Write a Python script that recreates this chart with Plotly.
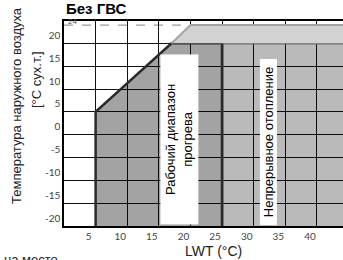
import plotly.graph_objects as go

# ---- data ----
lwt_ticks = [5, 10, 15, 20, 25, 30, 35, 40]
oat_ticks = [-20, -15, -10, -5, 0, 5, 10, 15, 20]

warmup_lwt = [5, 5, 17, 25, 25]
warmup_oat = [-20, 5, 20, 20, -20]

continuous_lwt = [25, 25, 45, 45]
continuous_oat = [-20, 20, 20, -20]

band_lwt = [17, 20, 45, 45]
band_oat = [20, 24, 24, 20]

max_oat = 24

fig = go.Figure()

fig.add_trace(go.Scatter(
    x=continuous_lwt, y=continuous_oat, fill="toself", mode="lines",
    fillcolor="rgba(0,0,0,0.27)", line=dict(color="#6a6a6a", width=2.5),
    hoverinfo="skip", showlegend=False))

fig.add_trace(go.Scatter(
    x=warmup_lwt, y=warmup_oat, fill="toself", mode="lines",
    fillcolor="rgba(0,0,0,0.36)", line=dict(color="#2a2a2a", width=2.5),
    hoverinfo="skip", showlegend=False))

fig.add_trace(go.Scatter(
    x=band_lwt, y=band_oat, fill="toself", mode="lines",
    fillcolor="#d2d2d2", line=dict(color="#a2a2a2", width=2),
    hoverinfo="skip", showlegend=False))

# dashed max line
fig.add_shape(type="line", x0=0, x1=band_lwt[1], y0=max_oat, y1=max_oat,
              line=dict(color="#9a9a9a", width=1.2, dash="dash"), layer="below")

tickfont = dict(family="Lato, Open Sans, sans-serif", size=10, color="#444")

fig.update_xaxes(
    range=[0, 44.12], tickvals=lwt_ticks, ticktext=[str(v) for v in lwt_ticks],
    showgrid=True, gridcolor="#111", gridwidth=1, zeroline=False,
    showline=True, linecolor="#000", linewidth=2, mirror=True,
    ticks="", tickfont=tickfont, ticklabelshift=-7, fixedrange=True,
    automargin=False)
fig.update_yaxes(
    range=[-20, 24.9], tickvals=oat_ticks, ticktext=[str(v) for v in oat_ticks],
    showgrid=True, gridcolor="#111", gridwidth=1, zeroline=False,
    showline=True, linecolor="#000", linewidth=1.5,
    ticks="", tickfont=tickfont, ticklabelshift=-8, fixedrange=True,
    automargin=False)

ML, MT, PW, PH = 64, 21, 279, 205


def px(xp):
    return (xp - ML) / PW


def py(yp):
    return (MT + PH - yp) / PH


base = "Liberation Sans, Arial, sans-serif"
annotations = [
    dict(text="<b>Без ГВС</b>", xref="paper", yref="paper", x=px(64), y=py(9),
         xanchor="left", yanchor="middle", showarrow=False,
         font=dict(family=base, size=15, color="#000")),
    dict(text="Температура наружного воздуха", xref="paper", yref="paper",
         x=px(16), y=py(106), xanchor="center", yanchor="middle", textangle=-90,
         showarrow=False, font=dict(family=base, size=13, color="#222")),
    dict(text="[°C сух.т.]", xref="paper", yref="paper",
         x=px(36), y=py(80), xanchor="center", yanchor="middle", textangle=-90,
         showarrow=False, font=dict(family=base, size=13, color="#222")),
    dict(text="LWT (°C)", xref="paper", yref="paper", x=px(213), y=py(251),
         xanchor="center", yanchor="middle", showarrow=False,
         font=dict(family=base, size=14, color="#222")),
    dict(text="на место", xref="paper", yref="paper", x=px(2), y=py(259),
         xanchor="left", yanchor="middle", showarrow=False,
         font=dict(family=base, size=13, color="#222")),
    dict(text="24", xref="paper", yref="paper", x=px(66), y=py(28),
         xanchor="left", yanchor="bottom", showarrow=False,
         font=dict(family=base, size=8, color="#555")),
    dict(text="Рабочий диапазон<br>прогрева", x=18.25, y=-1.06, xref="x", yref="y",
         textangle=-90, showarrow=False, bgcolor="#fff", width=167, height=35,
         font=dict(family=base, size=13, color="#000")),
    dict(text="Непрерывное отопление", x=32.25, y=-1.5, xref="x", yref="y",
         textangle=-90, showarrow=False, bgcolor="#fff", width=163, height=14,
         font=dict(family=base, size=13, color="#000")),
]

fig.update_layout(
    width=343, height=260, autosize=False,
    margin=dict(l=ML, r=0, t=MT, b=260 - MT - PH, pad=0, autoexpand=False),
    plot_bgcolor="#fff", paper_bgcolor="#fff",
    annotations=annotations, showlegend=False)

fig.write_html(
    "out.html", config={"displayModeBar": False},
    post_script="document.body.style.margin='0';document.body.style.padding='0';"
                "document.documentElement.style.overflow='hidden';")
